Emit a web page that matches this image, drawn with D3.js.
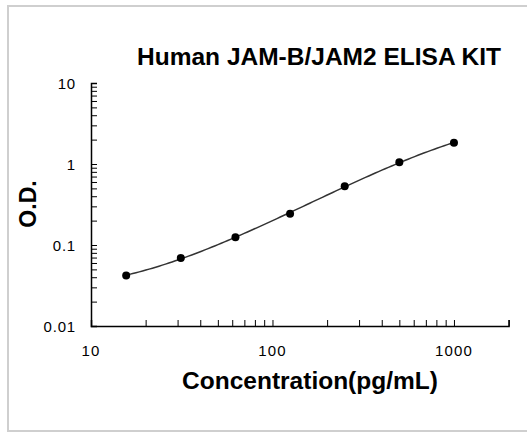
<!DOCTYPE html>
<html>
<head>
<meta charset="utf-8">
<script src="https://cdn.jsdelivr.net/npm/d3@7"></script>
<style>
body { margin: 0; background: #fff; }
svg { display: block; }
</style>
</head>
<body>
<svg width="527" height="434"></svg>
<script>
var svg = d3.select('svg');

var concentrations = [15.625, 31.25, 62.5, 125, 250, 500, 1000];
var odValues = [0.042, 0.069, 0.125, 0.243, 0.53, 1.05, 1.83];
var xTicks = [10, 100, 1000];
var yTicks = [0.01, 0.1, 1, 10];

// chart frame
svg.append('rect')
.attr('x', 8).attr('y', 6)
.attr('width', 530).attr('height', 425)
.attr('fill', 'none')
.attr('stroke', '#cfcfcf')
.attr('stroke-width', 2);

var x = d3.scaleLog().domain([10, 2000]).range([91, 508.6]);
var y = d3.scaleLog().domain([0.01, 10]).range([326, 83]);

// minor ticks for each decade
function minors(lo, hi) {
	var out = [];
	for (var d = lo; d < hi; d *= 10) {
		for (var k = 2; k <= 9; k++) out.push(d * k);
	}
	return out;
}

var xAxis = d3.axisBottom(x)
.tickValues(minors(10, 1000).concat([10, 100, 1000, 2000]))
.tickSize(-6)
.tickFormat('');

var gx = svg.append('g').attr('transform', 'translate(0,326)').call(xAxis);
gx.selectAll('path').attr('stroke', '#000').attr('stroke-width', 1.5);
gx.selectAll('line').attr('stroke', '#000');

var yAxis = d3.axisLeft(y)
.tickValues(minors(0.01, 10).concat(yTicks))
.tickSize(-6)
.tickFormat('');

var gy = svg.append('g').attr('transform', 'translate(91,0)').call(yAxis);
gy.selectAll('path').attr('stroke', '#000').attr('stroke-width', 1.5);
gy.selectAll('line').attr('stroke', '#000');

// tick labels
svg.selectAll('.xlab')
.data(xTicks)
.enter()
.append('text')
.attr('x', function(d){ return x(d); })
.attr('y', 356)
.attr('text-anchor', 'middle')
.attr('font-family', 'Liberation Sans, Arial, sans-serif')
.attr('font-size', '15px')
.attr('letter-spacing', '1.2px')
.attr('fill', '#000')
.text(function(d){ return d; });

svg.selectAll('.ylab')
.data(yTicks)
.enter()
.append('text')
.attr('x', 76)
.attr('y', function(d){ return y(d) + 6; })
.attr('text-anchor', 'end')
.attr('font-family', 'Liberation Sans, Arial, sans-serif')
.attr('font-size', '15px')
.attr('letter-spacing', '0.8px')
.attr('fill', '#000')
.text(function(d){ return d; });

// smooth fitted curve: cubic least squares in log-log space
function polyFit(xs, ys, deg) {
	var n = deg + 1;
	var A = [], b = [];
	for (var i = 0; i < n; i++) {
		A.push(new Array(n).fill(0));
		b.push(0);
	}
	xs.forEach(function(xv, k) {
		for (var i = 0; i < n; i++) {
			b[i] += ys[k] * Math.pow(xv, i);
			for (var j = 0; j < n; j++) A[i][j] += Math.pow(xv, i + j);
		}
	});
	for (var c = 0; c < n; c++) {
		var p = c;
		for (var r = c + 1; r < n; r++) if (Math.abs(A[r][c]) > Math.abs(A[p][c])) p = r;
		var t = A[c]; A[c] = A[p]; A[p] = t;
		var tb = b[c]; b[c] = b[p]; b[p] = tb;
		for (var r2 = c + 1; r2 < n; r2++) {
			var f = A[r2][c] / A[c][c];
			for (var j2 = c; j2 < n; j2++) A[r2][j2] -= f * A[c][j2];
			b[r2] -= f * b[c];
		}
	}
	var coef = new Array(n).fill(0);
	for (var r3 = n - 1; r3 >= 0; r3--) {
		var s = b[r3];
		for (var j3 = r3 + 1; j3 < n; j3++) s -= A[r3][j3] * coef[j3];
		coef[r3] = s / A[r3][r3];
	}
	return coef;
}

var lx = concentrations.map(Math.log10);
var ly = odValues.map(Math.log10);
var coef = polyFit(lx, ly, 3);
var lo = d3.min(lx), hi = d3.max(lx);
var curvePts = d3.range(0, 101).map(function(i) {
	var t = lo + (hi - lo) * i / 100;
	var v = 0;
	coef.forEach(function(c, k){ v += c * Math.pow(t, k); });
	return [Math.pow(10, t), Math.pow(10, v)];
});

var line = d3.line()
.x(function(d){ return x(d[0]); })
.y(function(d){ return y(d[1]); });

svg.append('path')
.datum(curvePts)
.attr('d', line)
.attr('fill', 'none')
.attr('stroke', '#333')
.attr('stroke-width', 1.5);

var pts = concentrations.map(function(c, i){ return [c, odValues[i]]; });
svg.selectAll('circle')
.data(pts)
.enter()
.append('circle')
.attr('cx', function(d){ return x(d[0]); })
.attr('cy', function(d){ return y(d[1]); })
.attr('r', 4)
.attr('fill', '#000');

// titles
svg.append('text')
.attr('x', 319).attr('y', 65)
.attr('text-anchor', 'middle')
.attr('font-family', 'Liberation Sans, Arial, sans-serif')
.attr('font-weight', 'bold')
.attr('font-size', '24.5px')
.text('Human JAM-B/JAM2 ELISA KIT');

svg.append('text')
.attr('x', 310).attr('y', 389)
.attr('text-anchor', 'middle')
.attr('font-family', 'Liberation Sans, Arial, sans-serif')
.attr('font-weight', 'bold')
.attr('font-size', '24.5px')
.text('Concentration(pg/mL)');

svg.append('text')
.attr('transform', 'translate(36,204) rotate(-90)')
.attr('text-anchor', 'middle')
.attr('font-family', 'Liberation Sans, Arial, sans-serif')
.attr('font-weight', 'bold')
.attr('font-size', '23px')
.text('O.D.');
</script>
</body>
</html>
